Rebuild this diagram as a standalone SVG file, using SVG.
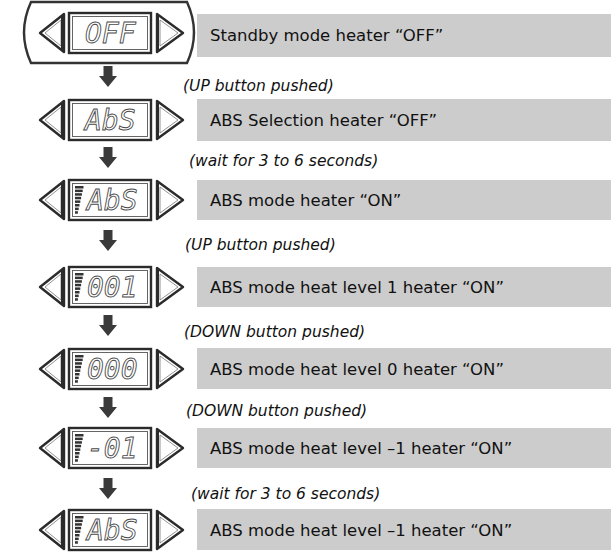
<svg xmlns="http://www.w3.org/2000/svg" width="611" height="556" viewBox="0 0 611 556">
<style>
.box{fill:#cccccc}
.t{font-family:"DejaVu Sans",Verdana,sans-serif;font-size:16.5px;fill:#111}
.lab{font-family:"DejaVu Sans",Verdana,sans-serif;font-size:15.5px;font-style:italic;fill:#111}
.lcd{font-family:"DejaVu Sans Mono","Liberation Mono",monospace;font-size:28px;font-style:italic;fill:#fff;stroke:#4a4a4a;stroke-width:0.9}
.tri{fill:#fff;stroke:#2b2b2b;stroke-width:2.4;stroke-linejoin:round}
.tri2{fill:none;stroke:#777;stroke-width:0.8}
.lo{fill:#fff;stroke:#2b2b2b;stroke-width:2.4}
.li{fill:none;stroke:#555;stroke-width:0.9}
.bar{fill:#333}
.arr{fill:#3a3a3a}
</style>
<defs>
<g id="disp">
<path class="tri" d="M40 0 L64 -19 L64 19 Z"/>
<path class="tri2" d="M45 0 L61 -13 L61 13 Z"/>
<rect x="61" y="-18" width="3" height="36" fill="#2b2b2b"/>
<rect class="lo" x="69" y="-20" width="82" height="40"/>
<rect class="li" x="72.5" y="-16.5" width="75" height="33"/>
<path class="tri" d="M183 0 L157 -19 L157 19 Z"/>
<path class="tri2" d="M178 0 L160 -13 L160 13 Z"/>
<rect x="156" y="-18" width="3" height="36" fill="#2b2b2b"/>
</g>
<g id="bars">
<rect class="bar" x="75" y="-14" width="8.5" height="2.5"/>
<rect class="bar" x="75" y="-10.4" width="7.7" height="2.5"/>
<rect class="bar" x="75" y="-6.8" width="6.9" height="2.5"/>
<rect class="bar" x="75" y="-3.2" width="6.1" height="2.5"/>
<rect class="bar" x="75" y="0.4" width="5.3" height="2.5"/>
<rect class="bar" x="75" y="4" width="4.5" height="2.5"/>
<rect class="bar" x="75" y="7.6" width="3.7" height="2.5"/>
<rect class="bar" x="75" y="11.2" width="2.9" height="2.5"/>
</g>
<path id="darr" class="arr" d="M-4.5 0 H4.5 V10 H9 L0 21 L-9 10 H-4.5 Z"/>
</defs>

<g id="connectors">
<use href="#darr" x="108" y="66"/>
<use href="#darr" x="108" y="147"/>
<use href="#darr" x="108" y="230"/>
<use href="#darr" x="108" y="315"/>
<use href="#darr" x="108" y="397"/>
<use href="#darr" x="108" y="478"/>
<text class="lab" x="183" y="91">(UP button pushed)</text>
<text class="lab" x="189" y="166">(wait for 3 to 6 seconds)</text>
<text class="lab" x="185" y="250">(UP button pushed)</text>
<text class="lab" x="184" y="337">(DOWN button pushed)</text>
<text class="lab" x="186" y="416">(DOWN button pushed)</text>
<text class="lab" x="191" y="499">(wait for 3 to 6 seconds)</text>
</g>

<g id="step1">
<rect class="box" x="197" y="14" width="414" height="43"/>
<path d="M31 2 L187 2 Q201 32.5 187 63 L31 63 Q17 32.5 31 2 Z" fill="#fff" stroke="#333" stroke-width="2.4"/>
<use href="#disp" y="33"/>
<text class="lcd" x="85" y="43">OFF</text>
<text class="t" x="210" y="41">Standby mode heater “OFF”</text>
</g>

<g id="step2">
<rect class="box" x="197" y="99" width="414" height="42"/>
<use href="#disp" y="120"/>
<text class="lcd" x="85" y="130">AbS</text>
<text class="t" x="210" y="126">ABS Selection heater “OFF”</text>
</g>

<g id="step3">
<rect class="box" x="197" y="180" width="414" height="40"/>
<use href="#disp" y="200"/>
<use href="#bars" y="200"/>
<text class="lcd" x="87" y="210">AbS</text>
<text class="t" x="210" y="206">ABS mode heater “ON”</text>
</g>

<g id="step4">
<rect class="box" x="197" y="267" width="414" height="40"/>
<use href="#disp" y="287"/>
<use href="#bars" y="287"/>
<text class="lcd" x="87" y="297">001</text>
<text class="t" x="210" y="293">ABS mode heat level 1 heater “ON”</text>
</g>

<g id="step5">
<rect class="box" x="197" y="348" width="414" height="41"/>
<use href="#disp" y="369"/>
<use href="#bars" y="369"/>
<text class="lcd" x="87" y="379">000</text>
<text class="t" x="210" y="375">ABS mode heat level 0 heater “ON”</text>
</g>

<g id="step6">
<rect class="box" x="197" y="428" width="414" height="40"/>
<use href="#disp" y="448"/>
<use href="#bars" y="448"/>
<text class="lcd" x="87" y="458">-01</text>
<text class="t" x="210" y="454">ABS mode heat level –1 heater “ON”</text>
</g>

<g id="step7">
<rect class="box" x="197" y="509" width="414" height="41"/>
<use href="#disp" y="530"/>
<use href="#bars" y="530"/>
<text class="lcd" x="87" y="540">AbS</text>
<text class="t" x="210" y="536">ABS mode heat level –1  heater “ON”</text>
</g>
</svg>
